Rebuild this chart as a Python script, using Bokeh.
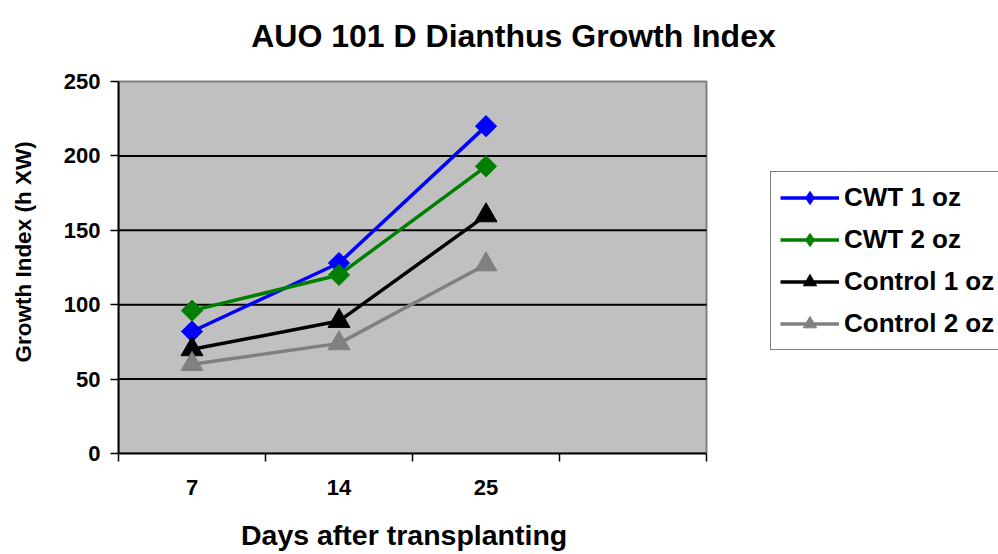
import math
from bokeh.plotting import figure
from bokeh.models import Range1d, FixedTicker, Legend, LegendItem, Label
from bokeh.embed import file_html
from bokeh.resources import INLINE

# Growth index readings per transplant age
days = ["7", "14", "25"]
n_slots = 4  # category slots on the x axis (last one left empty)
cwt_1oz = [82, 128, 220]
cwt_2oz = [96, 120, 193]
control_1oz = [70, 89, 160]
control_2oz = [60, 74, 127]
y_ticks = [0, 50, 100, 150, 200, 250]
grid_values = [50, 100, 150, 200]
y_max = 250

FONT = "Liberation Sans"
NBSP = "\u00a0"

# Page geometry (pixels): the grey plot area sits inside a larger frame so
# that the title and legend can share the frame with it.
W, H = 998, 554
AREA_L, AREA_R, AREA_T, AREA_B = 118, 706, 81, 453
x_end = n_slots * (W - AREA_L) / (AREA_R - AREA_L)
y_end = y_max * AREA_B / (AREA_B - AREA_T)

x_pos = [i + 0.5 for i in range(len(days))]

p = figure(
    width=W, height=H,
    x_range=Range1d(0, x_end), y_range=Range1d(0, y_end),
    output_backend="svg", toolbar_location=None,
    min_border_left=AREA_L, min_border_right=0,
    min_border_top=0, min_border_bottom=H - AREA_B,
    background_fill_color="white", border_fill_color="white",
)
p.outline_line_color = None
p.grid.visible = False

# Grey plot area with its border
p.quad(left=[0], right=[n_slots], bottom=[0], top=[y_max],
       fill_color="#C0C0C0", line_color="#808080", line_width=2)

# Horizontal gridlines
p.segment(x0=[0] * len(grid_values), x1=[n_slots] * len(grid_values),
          y0=grid_values, y1=grid_values, line_color="black", line_width=2)

# X axis: labels at slot centres, tick marks at slot boundaries.
# The axis title is centred on the whole frame, so trailing no-break
# spaces pull it back under the grey area.
xa = p.xaxis[0]
xa.bounds = (0, n_slots)
xa.ticker = FixedTicker(ticks=x_pos, minor_ticks=list(range(n_slots + 1)))
xa.major_label_overrides = {x: d for x, d in zip(x_pos, days)}
xa.major_tick_out = 0
xa.major_tick_in = 0
xa.minor_tick_out = 8
xa.minor_tick_in = 0
xa.minor_tick_line_color = "black"
xa.minor_tick_line_width = 1.5
xa.axis_line_color = "black"
xa.axis_line_width = 2
xa.major_label_text_font = FONT
xa.major_label_text_font_size = "22px"
xa.major_label_text_font_style = "bold"
xa.major_label_text_color = "black"
xa.major_label_standoff = 18
xa.axis_label = "Days after transplanting" + NBSP * 39
xa.axis_label_text_font = FONT
xa.axis_label_text_font_size = "28.5px"
xa.axis_label_text_font_style = "bold"
xa.axis_label_text_color = "black"
xa.axis_label_standoff = 21

# Y axis
ya = p.yaxis[0]
ya.bounds = (0, y_max)
ya.ticker = FixedTicker(ticks=y_ticks)
ya.minor_tick_line_color = None
ya.major_tick_out = 8
ya.major_tick_in = 0
ya.major_tick_line_color = "black"
ya.major_tick_line_width = 1.5
ya.axis_line_color = "black"
ya.axis_line_width = 2
ya.major_label_text_font = FONT
ya.major_label_text_font_size = "22px"
ya.major_label_text_font_style = "bold"
ya.major_label_text_color = "black"
ya.major_label_standoff = 10
ya.axis_label = "Growth Index (h XW)" + NBSP * 8
ya.axis_label_text_font = FONT
ya.axis_label_text_font_size = "22.5px"
ya.axis_label_text_font_style = "bold"
ya.axis_label_text_color = "black"
ya.axis_label_standoff = 25

# Title
title_x = n_slots * (513 - AREA_L) / (AREA_R - AREA_L)
title_y = y_max * (AREA_B - 35) / (AREA_B - AREA_T)
p.add_layout(Label(
    x=title_x, y=title_y, text="AUO 101 D Dianthus Growth Index",
    text_font=FONT, text_font_size="32px", text_font_style="bold",
    text_color="black", text_align="center", text_baseline="alphabetic",
))

series = [
    ("CWT 1 oz", cwt_1oz, "#0000FF", "diamond"),
    ("CWT 2 oz", cwt_2oz, "#008000", "diamond"),
    ("Control 1 oz", control_1oz, "#000000", "triangle"),
    ("Control 2 oz", control_2oz, "#808080", "triangle"),
]

items = []
for name, vals, color, shape in series:
    ln = p.line(x_pos, vals, line_color=color, line_width=3.5)
    if shape == "diamond":
        # diamond key for the legend, covered in the plot by the square marker
        key = p.scatter(x_pos, vals, marker="diamond", size=14,
                        fill_color=color, line_color=color)
        p.scatter(x_pos, vals, marker="square", angle=math.pi / 4, size=15,
                  fill_color=color, line_color=color)
    else:
        key = p.scatter(x_pos, vals, marker="triangle", size=22,
                        fill_color=color, line_color=color)
    items.append(LegendItem(label=name, renderers=[ln, key]))

legend = Legend(
    items=items,
    location=(770 - AREA_L, AREA_B - 350),
    orientation="vertical",
    border_line_color="black",
    border_line_width=1.5,
    background_fill_color="white",
    background_fill_alpha=1.0,
    label_text_font=FONT,
    label_text_font_size="26px",
    label_text_font_style="bold",
    label_text_color="black",
    glyph_width=59,
    glyph_height=33,
    label_height=33,
    label_standoff=5,
    spacing=9,
    padding=9,
    margin=0,
)
p.add_layout(legend, "center")

open("out.html", "w").write(file_html(p, INLINE))
